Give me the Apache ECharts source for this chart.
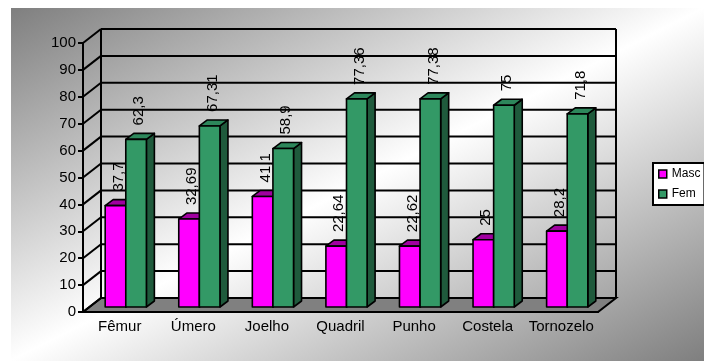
<!DOCTYPE html>
<html><head><meta charset="utf-8">
<script src="https://cdn.jsdelivr.net/npm/echarts@6/dist/echarts.min.js"></script>
<style>html,body{margin:0;padding:0;background:#fff;}#c{width:704px;height:361px;}</style>
</head><body><div id="c"></div>
<script>
const categories = ['Fêmur','Úmero','Joelho','Quadril','Punho','Costela','Tornozelo'];
const masc = [37.7, 32.69, 41.1, 22.64, 22.62, 25, 28.2];
const fem = [62.3, 67.31, 58.9, 77.36, 77.38, 75, 71.8];
const yTicks = [0,10,20,30,40,50,60,70,80,90,100];
const seriesNames = ['Masc','Fem'];

const FONT = '"Liberation Sans", Arial, sans-serif';
const WALL = [18, -14];
const BAR_OFF = [6, -5];
const BAR_DEPTH = [8, -6];
const COLORS = {
  Masc: {front:'#ff00ff', top:'#a000a0', side:'#800080'},
  Fem: {front:'#339966', top:'#2d875b', side:'#1f5a3c'}
};
function fmt(v){ return String(v).replace('.', ','); }

function wallItem(params, api){
  const cs = params.coordSys;
  const v = api.value(0);
  const yF = api.coord([0, v])[1];
  const xL = cs.x, xR = cs.x + cs.width;
  const ls = {stroke:'#000', lineWidth:2};
  const children = [];
  if (params.dataIndex === 0) {
    const yTop = api.coord([0, yTicks[yTicks.length-1]])[1];
    children.push({type:'polygon', shape:{points:[[xL,yF],[xR,yF],[xR+WALL[0],yF+WALL[1]],[xL+WALL[0],yF+WALL[1]]]}, style:{fill:'#808080', stroke:'#000', lineWidth:2, lineJoin:'miter'}});
    children.push({type:'line', shape:{x1:xL+WALL[0], y1:yF+WALL[1], x2:xL+WALL[0], y2:yTop+WALL[1]}, style:ls});
    children.push({type:'line', shape:{x1:xR+WALL[0], y1:yF+WALL[1], x2:xR+WALL[0], y2:yTop+WALL[1]}, style:ls});
  }
  children.push({type:'line', shape:{x1:xL, y1:yF, x2:xL+WALL[0], y2:yF+WALL[1]}, style:ls});
  children.push({type:'line', shape:{x1:xL+WALL[0], y1:yF+WALL[1], x2:xR+WALL[0], y2:yF+WALL[1]}, style:ls});
  return {type:'group', children};
}

function barGeom(api, idx){
  const c = api.value(0), v = api.value(1);
  const base = api.coord([c, 0]);
  const top = api.coord([c, v]);
  const catW = api.size([1,0])[0];
  const bw = catW*0.28;
  const cx = base[0] + BAR_OFF[0];
  const x0 = idx===0 ? cx - bw : cx;
  return {x0, x1:x0+bw, yb:base[1]+BAR_OFF[1], yt:top[1]+BAR_OFF[1], v};
}

function barRender(name, idx){
  return function(params, api){
    const g = barGeom(api, idx);
    const col = COLORS[name];
    const dx = BAR_DEPTH[0], dy = BAR_DEPTH[1];
    const st = {stroke:'#000', lineWidth:1.6, lineJoin:'round'};
    return {type:'group', children:[
      {type:'polygon', shape:{points:[[g.x1,g.yb],[g.x1+dx,g.yb+dy],[g.x1+dx,g.yt+dy],[g.x1,g.yt]]}, style:Object.assign({fill:col.side}, st)},
      {type:'polygon', shape:{points:[[g.x0,g.yt],[g.x1,g.yt],[g.x1+dx,g.yt+dy],[g.x0+dx,g.yt+dy]]}, style:Object.assign({fill:col.top}, st)},
      {type:'rect', shape:{x:g.x0, y:g.yt, width:g.x1-g.x0, height:g.yb-g.yt}, style:Object.assign({fill:col.front}, st)}
    ]};
  };
}

function labelRender(idx){
  return function(params, api){
    const g = barGeom(api, idx);
    return {type:'text', x:(g.x0+g.x1)/2 + 3, y:g.yt - 14, rotation:Math.PI/2,
      style:{text:fmt(g.v), fill:'#000', fontSize:15, fontFamily:FONT, align:'left', verticalAlign:'middle'}};
  };
}

const mascData = masc.map((v,i)=>[i,v]);
const femData = fem.map((v,i)=>[i,v]);

const chart = echarts.init(document.getElementById('c'), null, {renderer:'canvas'});
chart.setOption({
  animation:false,
  graphic:[{type:'rect', z:-10, silent:true, shape:{x:11, y:8, width:693, height:353},
    style:{fill:{type:'linear', x:11, y:8, x2:296, y2:568, global:true,
      colorStops:[{offset:0,color:'#7f7f7f'},{offset:0.5,color:'#ffffff'},{offset:1,color:'#7f7f7f'}]}}}],
  grid:{left:83, right:106, top:43, bottom:49, containLabel:false},
  xAxis:{type:'category', data:categories, boundaryGap:true,
    axisLine:{lineStyle:{color:'#000', width:2}},
    axisTick:{length:5, lineStyle:{color:'#000', width:2}},
    axisLabel:{color:'#000', fontSize:15, fontFamily:FONT, margin:7, interval:0}},
  yAxis:{type:'value', min:0, max:100, interval:10,
    axisLine:{show:true, lineStyle:{color:'#000', width:2}},
    axisTick:{show:true, length:5, lineStyle:{color:'#000', width:2}},
    axisLabel:{color:'#000', fontSize:15, fontFamily:FONT, margin:7},
    splitLine:{show:false}},
  legend:{data:seriesNames, orient:'vertical', left:653, top:163, itemWidth:8, itemHeight:8, itemGap:8,
    icon:'rect', padding:[5,4,5,5], backgroundColor:'#fff', borderColor:'#000', borderWidth:2, borderRadius:0,
    itemStyle:{borderColor:'#000', borderWidth:1.5},
    textStyle:{color:'#000', fontSize:12, fontFamily:FONT}},
  series:[
    {name:'lblMasc', type:'custom', z:1, silent:true, data:mascData, renderItem:labelRender(0)},
    {name:'lblFem', type:'custom', z:1, silent:true, data:femData, renderItem:labelRender(1)},
    {name:'walls', type:'custom', z:2, silent:true, data:yTicks.map(v=>[v]), encode:{y:0}, renderItem:wallItem},
    {name:'Masc', type:'custom', z:3, data:mascData, itemStyle:{color:COLORS.Masc.front}, renderItem:barRender('Masc',0)},
    {name:'Fem', type:'custom', z:4, data:femData, itemStyle:{color:COLORS.Fem.front}, renderItem:barRender('Fem',1)}
  ]
});
</script></body></html>
